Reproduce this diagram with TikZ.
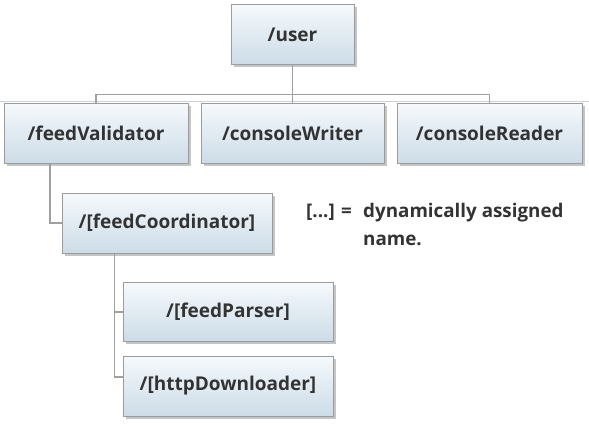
\documentclass[tikz,border=0pt]{standalone}
\usepackage{fontspec}
\setmainfont{Open Sans}
\usetikzlibrary{shadows,calc}
\definecolor{txt}{HTML}{333333}
\definecolor{boxtop}{HTML}{F6F9FC}
\definecolor{boxbot}{HTML}{CCDCE7}
\definecolor{boxline}{HTML}{9C9C9C}
\definecolor{conncol}{HTML}{A0A0A0}
\tikzset{
  box/.style={draw=boxline, line width=1pt, top color=boxtop, bottom color=boxbot,
    inner sep=0pt, minimum height=60pt, text=txt,
    font=\fontsize{19}{22}\selectfont\bfseries,
    drop shadow={shadow xshift=2.5pt, shadow yshift=-2.5pt, fill=black!45, opacity=0.5}},
  conn/.style={draw=conncol, line width=1.4pt},
  faint/.style={draw=black!18, line width=1pt},
  legend/.style={text=txt, inner sep=0pt, font=\fontsize{18.8}{22}\selectfont\bfseries}
}
\begin{document}
\begin{tikzpicture}[x=1pt,y=-1pt]
\useasboundingbox (0,0) rectangle (589,428);
\coordinate (lineL) at (0,101.5);
\coordinate (lineR) at (589,101.5);
\draw[faint] (lineL) -- (lineR);
\node[box, minimum width=123pt] (user) at (292.5,34.5) {/user};
\node[box, minimum width=184pt] (fv) at (96,133) {/feedValidator};
\node[box, minimum width=183pt] (cw) at (292.5,133) {/consoleWriter};
\node[box, minimum width=185pt] (cr) at (489.5,133) {/consoleReader};
\node[box, minimum width=210pt] (fc) at (167,223) {/[feedCoordinator]};
\node[box, minimum width=210pt, minimum height=59pt] (fp) at (228,312) {/[feedParser]};
\node[box, minimum width=210pt] (hd) at (228,386) {/[httpDownloader]};
\coordinate (bar) at (0,94.5);
\coordinate (fvx) at (50,0);
\coordinate (fcx) at (114.5,0);
\draw[conn] (user.south) -- (cw.north);
\draw[conn] (fv.north) -- (fv.north |- bar) -- (cr.north |- bar) -- (cr.north);
\draw[conn] (fv.south -| fvx) |- (fc.west);
\draw[conn] (fc.south -| fcx) |- (fp.west);
\draw[conn] (fc.south -| fcx) |- ([yshift=9pt]hd.west);
\node[legend, anchor=base west] (legA) at (306,217) {[...] =};
\node[legend, anchor=base west] (legB) at (363,217) {dynamically assigned};
\node[legend, anchor=base west] (legC) at (363,245) {name.};
\end{tikzpicture}
\end{document}
